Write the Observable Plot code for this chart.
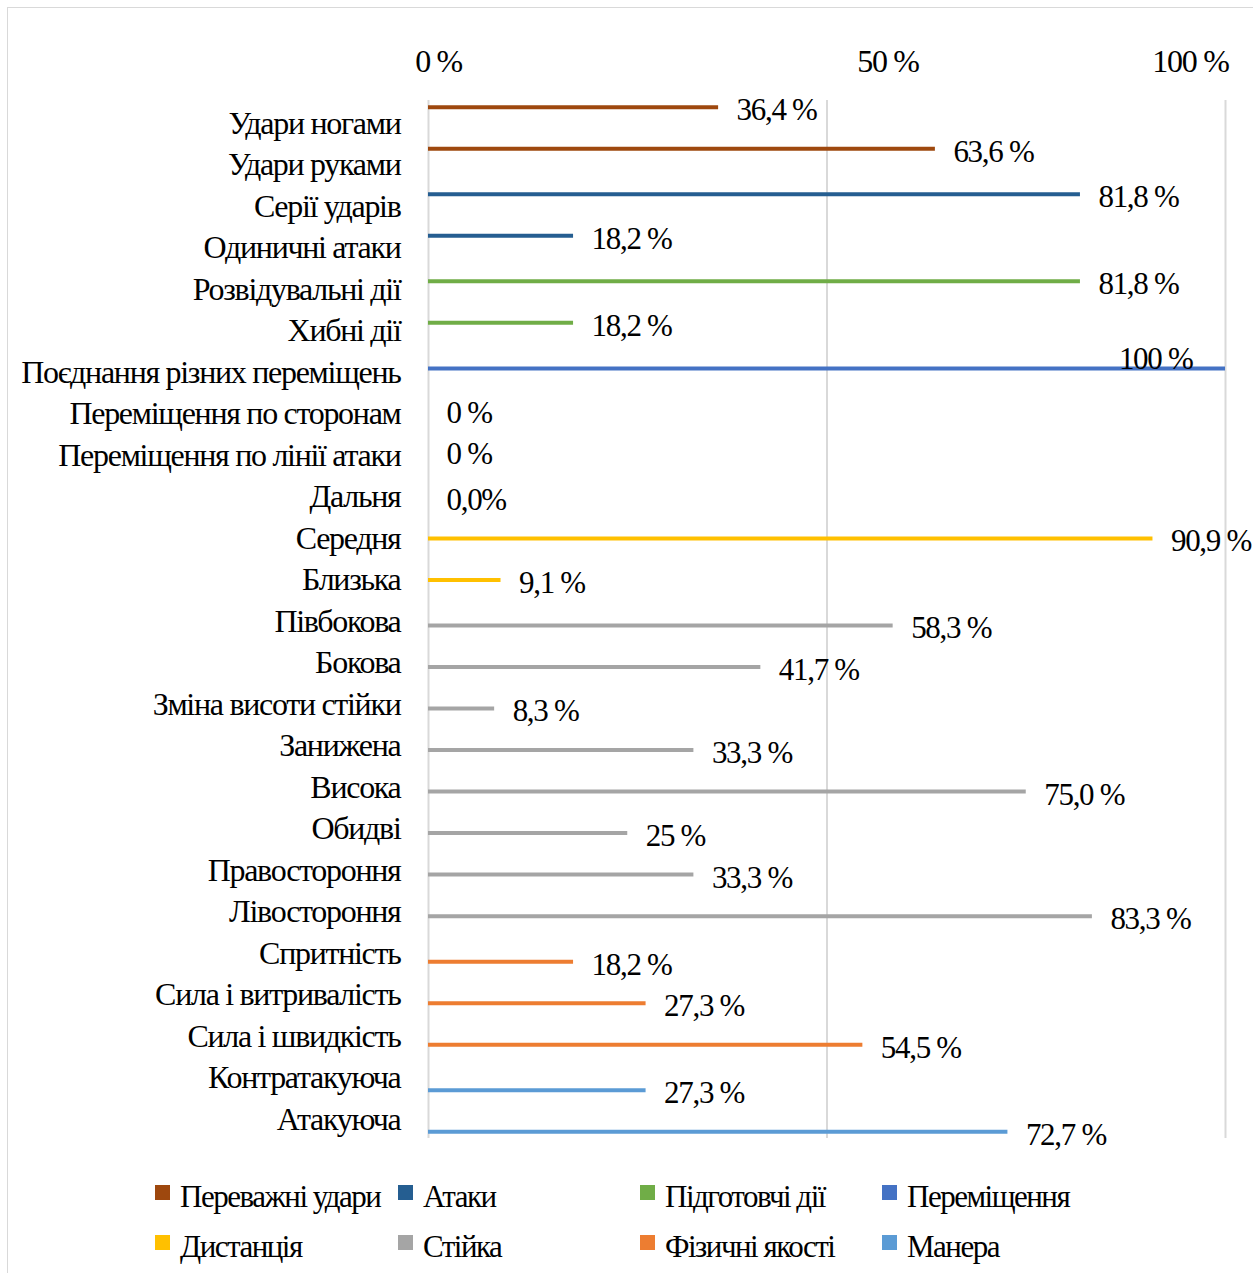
<!DOCTYPE html>
<html><head><meta charset="utf-8">
<script src="https://cdn.jsdelivr.net/npm/d3@7"></script>
<script src="https://cdn.jsdelivr.net/npm/@observablehq/plot@0.6"></script>
<style>
body{margin:0;background:#fff;}
#wrap{position:relative;width:1253px;height:1273px;overflow:hidden;font-family:"Liberation Serif",serif;background:#fff;}
#frame{position:absolute;left:7px;top:7px;width:1252px;height:1272px;border:1.5px solid #d9d9d9;box-sizing:border-box;}
#chart{position:absolute;left:0;top:0;}
.item{position:absolute;font-size:31px;line-height:31px;letter-spacing:-1.5px;color:#000;white-space:nowrap;}
.sw{position:absolute;width:15px;height:15px;}
</style>
</head><body>
<div id="wrap"><div id="frame"></div><div id="chart"></div><div id="legend"></div></div>
<script>
const categories = ["Удари ногами","Удари руками","Серії ударів","Одиничні атаки","Розвідувальні дії","Хибні дії","Поєднання різних переміщень","Переміщення по сторонам","Переміщення по лінії атаки","Дальня","Середня","Близька","Півбокова","Бокова","Зміна висоти стійки","Занижена","Висока","Обидві","Правостороння","Лівостороння","Спритність","Сила і витривалість","Сила і швидкість","Контратакуюча","Атакуюча"];
const values = [36.4, 63.6, 81.8, 18.2, 81.8, 18.2, 100, 0, 0, 0, 90.9, 9.1, 58.3, 41.7, 8.3, 33.3, 75.0, 25, 33.3, 83.3, 18.2, 27.3, 54.5, 27.3, 72.7];
const valueLabels = ["36,4 %","63,6 %","81,8 %","18,2 %","81,8 %","18,2 %","100 %","0 %","0 %","0,0%","90,9 %","9,1 %","58,3 %","41,7 %","8,3 %","33,3 %","75,0 %","25 %","33,3 %","83,3 %","18,2 %","27,3 %","54,5 %","27,3 %","72,7 %"];
const groups = ["Переважні удари","Переважні удари","Атаки","Атаки","Підготовчі дії","Підготовчі дії","Переміщення","Переміщення","Переміщення","Дистанція","Дистанція","Дистанція","Стійка","Стійка","Стійка","Стійка","Стійка","Стійка","Стійка","Стійка","Фізичні якості","Фізичні якості","Фізичні якості","Манера","Манера"];
const series = ["Переважні удари","Атаки","Підготовчі дії","Переміщення","Дистанція","Стійка","Фізичні якості","Манера"];
const colors = ["#9e480e","#255e91","#70ad47","#4472c4","#ffc000","#a5a5a5","#ed7d31","#5b9bd5"];
const xTicks = [0, 50, 100];
const xTickLabels = ["0 %","50 %","100 %"];

const data = categories.map((c, i) => ({cat: c, value: values[i], label: valueLabels[i], group: groups[i]}));
const fmt = d => xTickLabels[xTicks.indexOf(d)];
const step = 4;

const marks = [
  Plot.gridX(xTicks, {stroke: "#d9d9d9", strokeOpacity: 1, strokeWidth: 2}),
  Plot.axisY({tickSize: 0, tickPadding: 28, label: null, dy: 2, fontSize: 32}),
  Plot.axisX([0], {anchor: "top", tickSize: 0, tickPadding: 29, tickFormat: fmt, dx: 10, label: null, fontSize: 32}),
  Plot.axisX([50], {anchor: "top", tickSize: 0, tickPadding: 29, tickFormat: fmt, dx: 61, label: null, fontSize: 32}),
  Plot.axisX([100], {anchor: "top", tickSize: 0, tickPadding: 29, tickFormat: fmt, textAnchor: "end", dx: 3, label: null, fontSize: 32})
];
series.forEach((s, i) => {
  const off = (i - 3.5) * step;
  const d = data.filter(r => r.group === s);
  marks.push(Plot.ruleY(d.filter(r => r.value > 0), {y: "cat", x1: 0, x2: "value", stroke: colors[i], strokeWidth: 4, dy: off}));
  marks.push(Plot.text(d.filter(r => r.value < 100), {y: "cat", x: "value", text: "label", textAnchor: "start", dx: 18, dy: off + 3}));
  marks.push(Plot.text(d.filter(r => r.value >= 100), {y: "cat", x: "value", text: "label", textAnchor: "end", dx: -33, dy: off - 9}));
});

const chart = Plot.plot({
  width: 1253,
  height: 1160,
  marginLeft: 428,
  marginRight: 28,
  marginTop: 100,
  marginBottom: 22,
  style: {fontFamily: "'Liberation Serif', serif", fontSize: "31px", letterSpacing: "-1.3px", color: "#000", background: "transparent"},
  x: {domain: [0, 100], label: null},
  y: {type: "band", domain: categories, padding: 0, round: false, label: null},
  marks
});
document.getElementById("chart").appendChild(chart);

// legend
const legend = document.getElementById("legend");
const colX = [155, 398, 640, 882];
const rowTop = [1185, 1235];
series.forEach((s, i) => {
  const c = i % 4, r = Math.floor(i / 4);
  const sw = document.createElement("div");
  sw.className = "sw";
  sw.style.left = colX[c] + "px";
  sw.style.top = rowTop[r] + "px";
  sw.style.background = colors[i];
  legend.appendChild(sw);
  const t = document.createElement("div");
  t.className = "item";
  t.style.left = (colX[c] + 25) + "px";
  t.style.top = (rowTop[r] - 4) + "px";
  t.textContent = s;
  legend.appendChild(t);
});
</script>
</body></html>
